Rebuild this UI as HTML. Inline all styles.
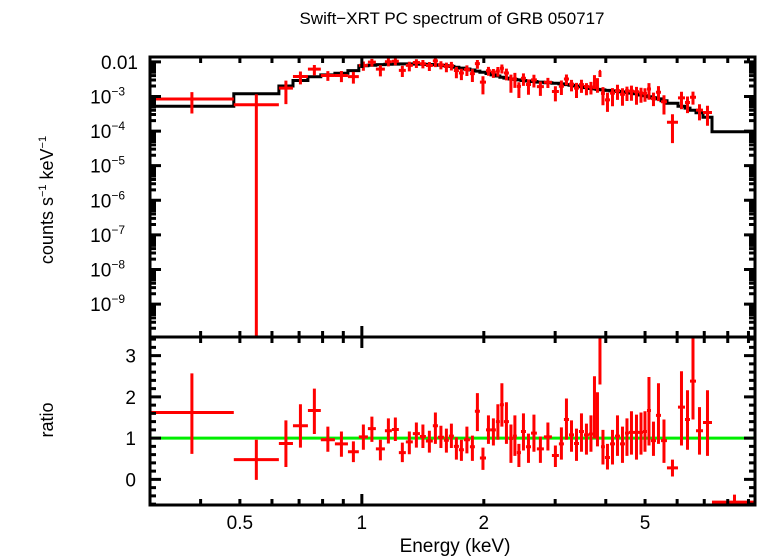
<!DOCTYPE html>
<html><head><meta charset="utf-8">
<style>
html,body{margin:0;padding:0;background:#fff;}
svg{display:block;font-family:"Liberation Sans",sans-serif;}
</style></head>
<body>
<svg id="chart" width="758" height="556" viewBox="0 0 758 556" xmlns="http://www.w3.org/2000/svg">
<text x="452" y="24" font-size="17" text-anchor="middle">Swift−XRT PC spectrum of GRB 050717</text>
<g id="marks"></g>
<g id="axes"></g>
<text transform="translate(53,200) rotate(-90)" font-size="18" text-anchor="middle">counts s<tspan font-size="11" dy="-7">−1</tspan><tspan dy="7"> keV</tspan><tspan font-size="11" dy="-7">−1</tspan></text>
<text transform="translate(53,420) rotate(-90)" font-size="18" text-anchor="middle">ratio</text>
<text x="455" y="552" font-size="19" text-anchor="middle">Energy (keV)</text>
</svg>
<script>
// bin edges (keV)
const edges=[0.30,0.483,0.624,0.676,0.736,0.792,0.858,0.924,0.983,1.035,1.083,1.140,1.186,1.234,1.284,1.336,1.391,1.439,1.497,1.541,1.594,1.640,1.687,1.736,1.786,1.848,1.901,1.956,2.025,2.082,2.142,2.191,2.242,2.307,2.360,2.413,2.470,2.541,2.615,2.704,2.814,2.945,3.064,3.153,3.245,3.339,3.435,3.533,3.635,3.719,3.783,3.848,3.892,3.981,4.097,4.215,4.336,4.461,4.563,4.695,4.831,4.942,5.055,5.171,5.320,5.474,5.663,6.029,6.274,6.455,6.679,6.950,7.314,9.447];
// model (counts/s/keV)
const model=[5.2e-4,1.2e-3,2.0e-3,2.9e-3,3.7e-3,4.2e-3,4.7e-3,5.6e-3,7.7e-3,8.0e-3,8.3e-3,8.5e-3,8.6e-3,8.7e-3,8.7e-3,8.6e-3,8.5e-3,8.4e-3,8.2e-3,8.0e-3,7.7e-3,7.4e-3,7.0e-3,6.6e-3,6.2e-3,5.8e-3,5.4e-3,5.0e-3,4.6e-3,4.2e-3,3.9e-3,3.6e-3,3.4e-3,3.2e-3,3.1e-3,3.0e-3,2.9e-3,2.8e-3,2.7e-3,2.6e-3,2.5e-3,2.4e-3,2.3e-3,2.2e-3,2.1e-3,2.0e-3,1.9e-3,1.8e-3,1.7e-3,1.65e-3,1.6e-3,1.58e-3,1.55e-3,1.5e-3,1.45e-3,1.4e-3,1.35e-3,1.3e-3,1.25e-3,1.2e-3,1.1e-3,1.05e-3,9.8e-4,9.2e-4,8.5e-4,7.5e-4,6.4e-4,5.2e-4,4.6e-4,4.0e-4,3.4e-4,2.5e-4,9.6e-5];
// data/model ratio with error bounds
const ratio=[1.62,0.48,0.87,1.30,1.67,0.96,0.86,0.67,1.03,1.23,0.74,1.18,1.21,0.65,0.91,1.11,1.04,0.93,1.30,1.02,0.95,1.05,0.80,0.72,0.96,0.79,1.65,0.52,1.20,1.20,1.40,1.81,1.40,0.99,1.05,0.65,1.16,0.79,1.12,0.74,1.03,0.58,0.86,1.45,1.08,0.87,1.16,1.08,1.10,1.75,1.47,3.35,0.79,0.53,0.86,1.05,0.86,1.12,1.14,1.14,1.14,1.16,1.67,0.94,1.55,0.94,0.28,1.75,1.45,2.38,1.18,1.38,-0.55];
const ratioLo=[0.62,-0.01,0.30,0.77,1.10,0.67,0.55,0.42,0.72,0.91,0.46,0.87,0.93,0.42,0.61,0.77,0.76,0.65,0.86,0.76,0.65,0.76,0.48,0.45,0.63,0.45,1.17,0.23,0.86,0.82,0.96,1.28,0.86,0.40,0.57,0.30,0.70,0.40,0.67,0.40,0.70,0.30,0.48,0.96,0.67,0.45,0.67,0.60,0.67,0.99,0.80,2.30,0.36,0.24,0.36,0.57,0.40,0.57,0.60,0.48,0.60,0.67,0.82,0.57,0.86,0.40,0.07,0.82,0.72,1.45,0.60,0.57,-0.62];
const ratioHi=[2.57,0.96,1.43,1.82,2.20,1.28,1.16,0.92,1.33,1.52,0.96,1.48,1.50,0.89,1.16,1.38,1.33,1.18,1.62,1.30,1.23,1.35,1.02,0.96,1.28,1.06,2.09,0.77,1.55,1.48,1.82,2.33,1.87,1.33,1.55,0.86,1.60,1.11,1.57,1.04,1.38,0.82,1.26,1.96,1.43,1.23,1.60,1.35,1.55,2.50,2.11,3.45,1.20,0.86,1.20,1.55,1.28,1.48,1.65,1.57,1.62,1.65,2.48,1.40,2.33,1.45,0.48,2.62,2.16,3.45,1.75,2.16,-0.37];
const topTickLabels=["0.01","10","10","10","10","10","10","10"];
const topTickExps=["","−3","−4","−5","−6","−7","−8","−9"];
const ratioTicks=[0,1,2,3];
const xTickLabels=["0.5","1","2","5"];
const xTickVals=[0.5,1,2,5];

const NS="http://www.w3.org/2000/svg";
const L=150,R=755,T1=57,B1=337,T2=337,B2=505;
const XMIN=0.3,XMAX=9.34,YLMIN=-9.95,YLMAX=-1.86,RMIN=-0.62,RMAX=3.45;
function xs(e){return L+(Math.log10(e)-Math.log10(XMIN))/(Math.log10(XMAX)-Math.log10(XMIN))*(R-L);}
function ys(v){if(v<=0)return B1;let l=Math.log10(v);return B1-(l-YLMIN)/(YLMAX-YLMIN)*(B1-T1);}
function yr(v){return B2-(v-RMIN)/(RMAX-RMIN)*(B2-T2);}
const marks=document.getElementById('marks'),axes=document.getElementById('axes');
function mk(tag,attrs,parent){const e=document.createElementNS(NS,tag);for(const k in attrs)e.setAttribute(k,attrs[k]);parent.appendChild(e);return e;}

const defs=mk('defs',{},marks);
const c1=mk('clipPath',{id:'c1'},defs);mk('rect',{x:L,y:T1,width:R-L,height:B1-T1},c1);
const c2=mk('clipPath',{id:'c2'},defs);mk('rect',{x:L,y:T2,width:R-L,height:B2-T2},c2);
const g1=mk('g',{'clip-path':'url(#c1)'},marks);


const g2=mk('g',{'clip-path':'url(#c2)'},marks);



let d='';
for(let i=0;i<model.length;i++){const x0=xs(edges[i]),x1=xs(edges[i+1]),y=ys(model[i]);d+=(i?'L':'M')+x0.toFixed(1)+','+y.toFixed(1)+'L'+x1.toFixed(1)+','+y.toFixed(1);}
const ml=mk('path',{d:d,fill:'none',stroke:'#000','stroke-width':3},g1);



const ul=mk('line',{x1:L,x2:R,y1:yr(1),y2:yr(1),stroke:'#00ee00','stroke-width':3},g2);



for(let i=0;i<ratio.length;i++){
  const x0=xs(edges[i]),x1=xs(edges[i+1]),xc=xs(Math.sqrt(edges[i]*edges[i+1]));
  const c=model[i]*ratio[i],cl=model[i]*ratioLo[i],ch=model[i]*ratioHi[i];
  if(c>0){
    const p=mk('path',{d:`M${x0},${ys(c)}H${x1}M${xc},${ys(cl)}V${ys(ch)}`,stroke:'#ff0000','stroke-width':3,fill:'none'},g1);
    
    
  }
  const q=mk('path',{d:`M${x0},${yr(ratio[i])}H${x1}M${xc},${yr(ratioLo[i])}V${yr(ratioHi[i])}`,stroke:'#ff0000','stroke-width':3,fill:'none'},g2);
  
  
}

const f1=mk('rect',{x:L,y:T1,width:R-L,height:B1-T1,fill:'none',stroke:'#000','stroke-width':3},axes);


const f2=mk('rect',{x:L,y:T2,width:R-L,height:B2-T2,fill:'none',stroke:'#000','stroke-width':3},axes);



let td='';
for(let dec=-1;dec<=0;dec++){for(let m=1;m<=9;m++){const e=m*Math.pow(10,dec);if(e<XMIN||e>XMAX)continue;const x=xs(e);const len=(m===1)?11:6;
  td+=`M${x},${T1}v${len}M${x},${B1}v${-len}M${x},${T2}v${len}M${x},${B2}v${-len}`;}}
for(let dec=-10;dec<=-2;dec++){for(let m=1;m<=9;m++){const v=m*Math.pow(10,dec);const l=Math.log10(v);if(l<YLMIN||l>YLMAX)continue;const y=ys(v);const len=(m===1)?11:6;
  td+=`M${L},${y}h${len}M${R},${y}h${-len}`;}}
for(let k=-3;k<=17;k++){const v=k*0.2;if(v<RMIN||v>RMAX)continue;const y=yr(v);const len=(k%5===0)?11:6;td+=`M${L},${y}h${len}M${R},${y}h${-len}`;}
const tk=mk('path',{d:td,stroke:'#000','stroke-width':3,fill:'none'},axes);



for(let i=0;i<topTickLabels.length;i++){
  const y=ys(Math.pow(10,-2-i));
  const t=mk('text',{x:138,y:y+7,'font-size':19,'text-anchor':'end'},axes);
  
  
  if(topTickExps[i]){t.setAttribute('x',125);t.textContent=topTickLabels[i];const s=mk('tspan',{'font-size':12,dy:-8},t);s.textContent=topTickExps[i];}
  else t.textContent=topTickLabels[i];
}
for(let i=0;i<ratioTicks.length;i++){
  const t=mk('text',{x:136,y:yr(ratioTicks[i])+7,'font-size':19,'text-anchor':'end'},axes);
  
  
  t.textContent=String(ratioTicks[i]);
}
for(let i=0;i<xTickVals.length;i++){
  const t=mk('text',{x:xs(xTickVals[i]),y:529,'font-size':19,'text-anchor':'middle'},axes);
  
  
  t.textContent=xTickLabels[i];
}
</script>
</body></html>
